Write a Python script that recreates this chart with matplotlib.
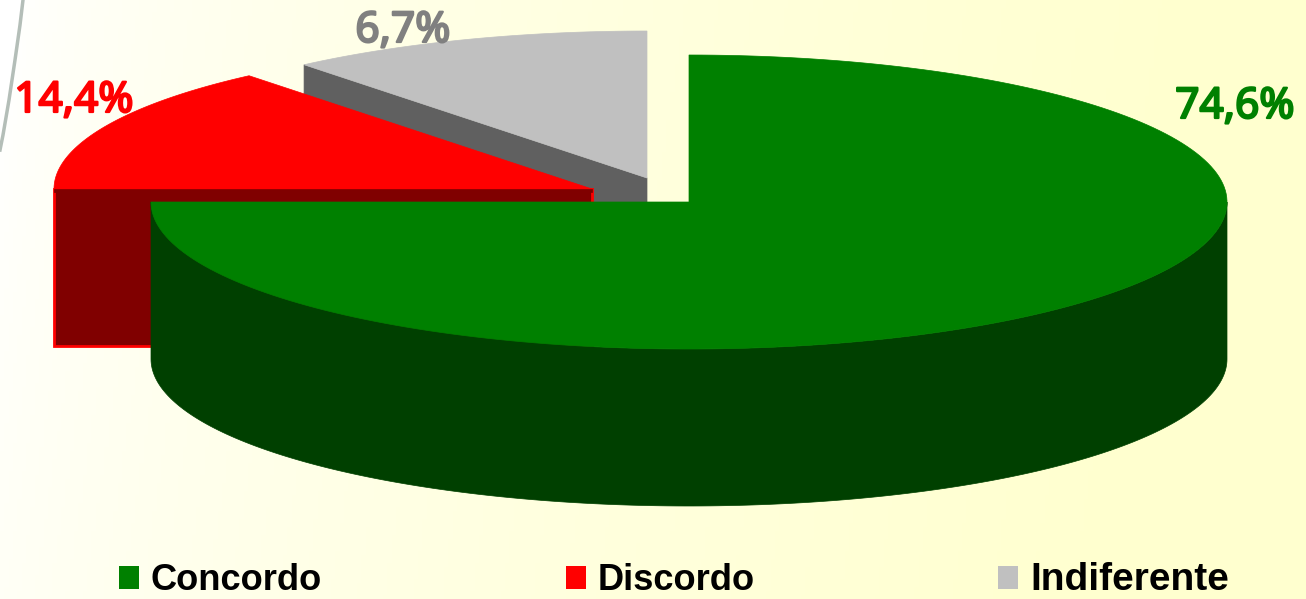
import numpy as np
import matplotlib
matplotlib.use("Agg")
import matplotlib.pyplot as plt
import matplotlib.patheffects as pe
from matplotlib.patches import Polygon, Patch

# legend and labels, as printed
categories = ["Concordo", "Discordo", "Indiferente"]
labels = ["74,6%", "14,4%", "6,7%"]
# share of the circle each slice really takes in the picture
shares = [75.0, 14.0, 11.0]

top_colors = ["#008000", "#FF0000", "#C0C0C0"]
side_colors = ["#004000", "#800000", "#606060"]
label_colors = ["#008000", "#FF0000", "#808080"]

# slice centres (exploded), ellipse radii, height of the pie
centers = [(689, 202), (592, 189), (647, 178)]
RX, RY, DEPTH = 538, 147, 157


def rim(center, a0, a1):
	# angles clockwise from 12 o'clock, y axis points down
	a = np.radians(np.linspace(a0, a1, 200))
	return np.column_stack([center[0] + RX * np.sin(a), center[1] - RY * np.cos(a)])


def add_poly(ax, pts, color, edge=None, lw=0):
	ax.add_patch(Polygon(pts, closed=True, facecolor=color,
		edgecolor=edge if edge else color, linewidth=lw if edge else 0.5))


def draw_background(ax):
	w, h = 1306, 599
	xx, yy = np.meshgrid(np.linspace(0, 1, 300), np.linspace(0, 1, 150))
	t = np.clip((xx * w + 0.15 * yy * h - 20) / 1150, 0, 1)
	t = t ** 0.6
	img = np.ones((150, 300, 3))
	img[..., 2] = 1.0 - t * (1.0 - 0.815)
	ax.imshow(img, extent=[0, w, h, 0], aspect="auto", zorder=0)
	# bit of the slide decoration, top left
	ax.plot([23, 20, 15, 9, 3, 0], [0, 25, 60, 100, 135, 150], color="#B4BEB8", lw=2.5, zorder=1)


def draw_slices(ax):
	edges = np.cumsum([0] + shares) / sum(shares) * 360
	# back slices first, green sits in front
	for i in [2, 1, 0]:
		c = centers[i]
		a0, a1 = edges[i], edges[i + 1]
		arc = rim(c, a0, a1)
		if i == 0:
			# round outer wall, only the front half shows
			front = rim(c, 90, 270)
			add_poly(ax, np.vstack([front, (front + [0, DEPTH])[::-1]]), side_colors[i])
		elif i == 1:
			# cut face along the left, red outline like the original
			left = arc[0]
			pts = [left, c, (c[0], c[1] + DEPTH), (left[0], left[1] + DEPTH)]
			add_poly(ax, pts, side_colors[i], edge=top_colors[i], lw=2)
		else:
			first = arc[0]
			pts = [first, c, (c[0], c[1] + DEPTH), (first[0], first[1] + DEPTH)]
			add_poly(ax, pts, side_colors[i])
		add_poly(ax, np.vstack([[c], arc]), top_colors[i])
		if i == 1:
			# top face must not cover the dark cut face
			left = arc[0]
			add_poly(ax, [left, c, (c[0], c[1] + 3), (left[0], left[1] + 3)], side_colors[i])


def main():
	fig = plt.figure(figsize=(13.06, 5.99), dpi=100)
	ax = fig.add_axes([0, 0, 1, 1])
	draw_background(ax)
	draw_slices(ax)
	ax.set_xlim(0, 1306)
	ax.set_ylim(599, 0)
	ax.axis("off")

	positions = [(1235, 107), (74, 101), (403, 31)]
	for text, color, pos in zip(labels, label_colors, positions):
		ax.text(pos[0], pos[1], text, color=color, family="Noto Sans",
			fontsize=30.5, ha="center", va="center",
			path_effects=[pe.withStroke(linewidth=1.6, foreground=color)])

	handles = [Patch(facecolor=c, edgecolor="none") for c in top_colors]
	leg = ax.legend(handles, categories, ncol=3, loc="lower left", bbox_to_anchor=(119, 598),
		bbox_transform=ax.transData, frameon=False, borderpad=0, borderaxespad=0,
		prop={"family": "Liberation Sans", "weight": "bold", "size": 26.1},
		handlelength=0.55, handleheight=0.6, handletextpad=0.33, columnspacing=6.72,
		labelcolor="black")
	# last entry is printed wider in the original
	leg.get_texts()[2].set_fontsize(28)

	fig.savefig("out.png", dpi=100)


if __name__ == "__main__":
	main()
